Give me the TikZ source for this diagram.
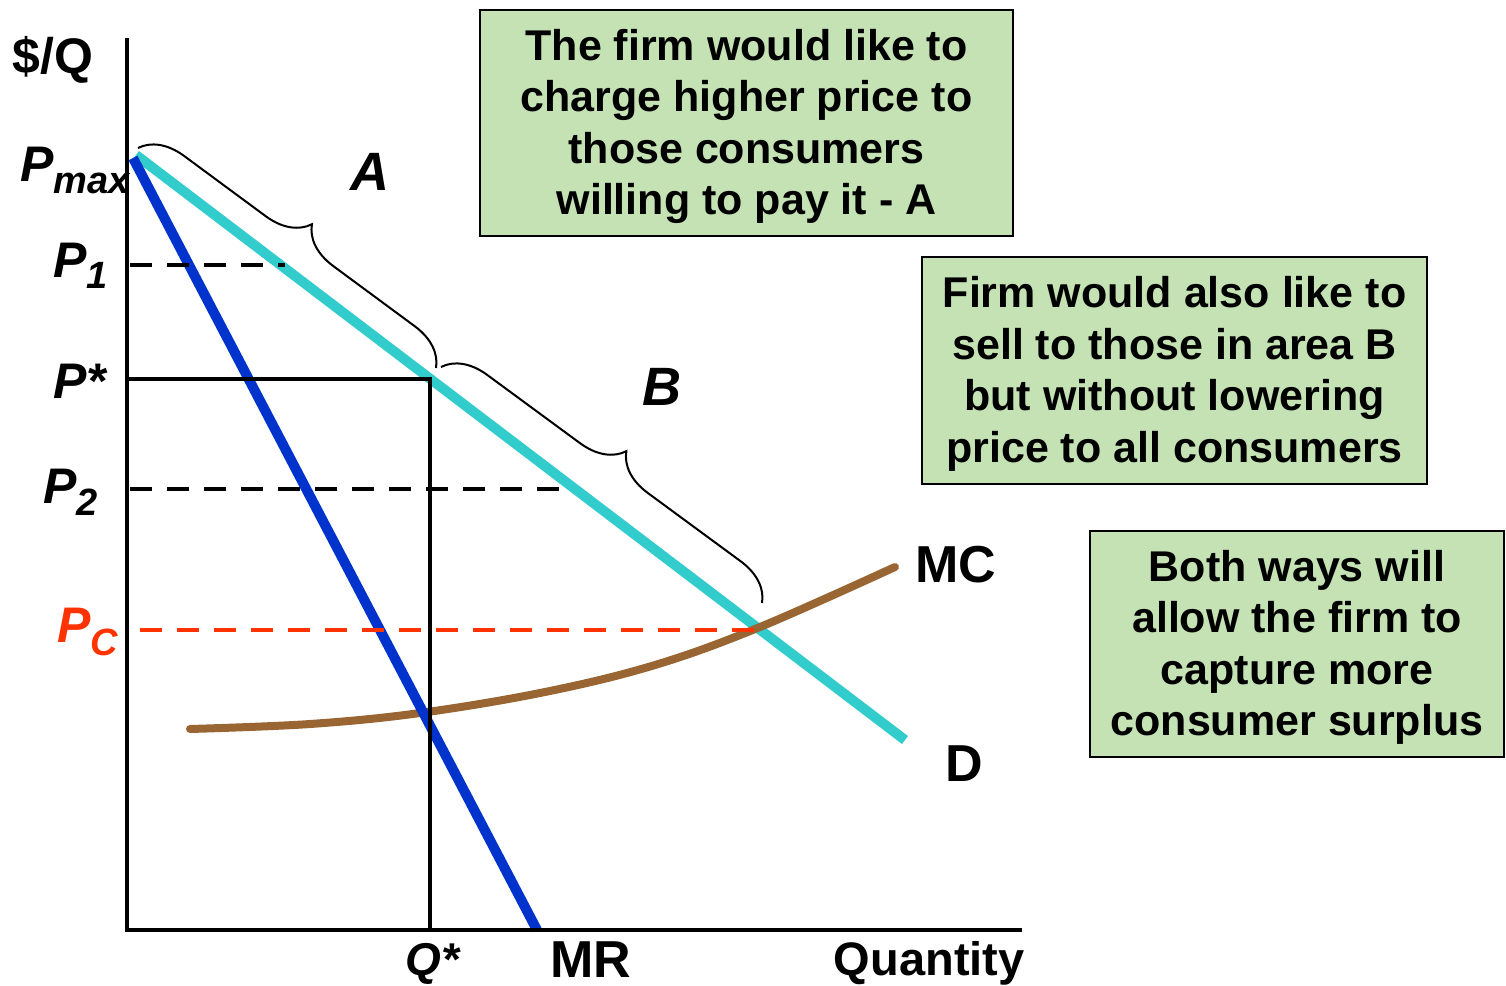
\documentclass[tikz,border=0pt]{standalone}
\usepackage{fontspec}
\setmainfont{Liberation Sans}
\usetikzlibrary{decorations.pathreplacing}
\definecolor{boxgreen}{RGB}{196,226,180}
\definecolor{dcyan}{RGB}{51,204,204}
\definecolor{mrblue}{RGB}{0,51,204}
\definecolor{mcbrown}{RGB}{153,102,51}
\definecolor{pcred}{RGB}{255,51,0}
\newcommand{\subfont}{\fontsize{19}{20}\selectfont}
\newcommand{\boxlines}[1]{\raisebox{-2pt}[\height][\depth]{\begin{tabular}{@{}c@{}}#1\end{tabular}}}
\begin{document}
\begin{tikzpicture}[x=0.5pt,y=-0.5pt,
  note/.style={draw=black,line width=1pt,fill=boxgreen,align=center,
    font=\bfseries\fontsize{21.5}{25.75}\selectfont,inner sep=0pt},
  lab/.style={font=\bfseries\fontsize{26}{30}\selectfont,inner sep=0pt},
  plab/.style={font=\bfseries\itshape\fontsize{25}{30}\selectfont,inner sep=0pt},
  axisline/.style={line width=2.4pt},
  dashline/.style={line width=2.4pt,dash pattern=on 11pt off 7.5pt},
  curveline/.style={line width=5pt},
  brc/.style={decorate,decoration={brace,amplitude=21pt},line width=1pt}]
\useasboundingbox (0,0) rectangle (1506,986);

% boxes
\node[note,minimum width=266.5pt,minimum height=113pt] (box1) at (746.5,123)
  {\boxlines{The firm would like to\\charge higher price to\\those consumers\\willing to pay it - A}};
\node[note,minimum width=252.5pt,minimum height=113.5pt] (box2) at (1174.5,370.5)
  {\boxlines{Firm would also like to\\sell to those in area B\\but without lowering\\price to all consumers}};
\node[note,minimum width=207pt,minimum height=113pt] (box3) at (1297,644)
  {\boxlines{Both ways will\\allow the firm to\\capture more\\consumer surplus}};

% coordinates
\coordinate (ytop) at (127,38);
\coordinate (O) at (127,930);
\coordinate (xend) at (1022,930);
\coordinate (dA) at (136,155);
\coordinate (dB) at (905,740);
\coordinate (mA) at (133,158);
\coordinate (mB) at (537,930);
\coordinate (p1a) at (130,265);
\coordinate (p1b) at (285,265);
\coordinate (psa) at (127,379);
\coordinate (psb) at (430,379);
\coordinate (qs) at (430,930);
\coordinate (p2a) at (130,489);
\coordinate (p2b) at (565,489);
\coordinate (pca) at (140,630);
\coordinate (pcb) at (760,630);
\coordinate (bA1) at (138,148);
\coordinate (bA2) at (436,368);
\coordinate (bB1) at (441,367);
\coordinate (bB2) at (762,603);

% curves
\draw[curveline,dcyan] (dA) -- (dB);
\draw[mcbrown,line width=4pt,line cap=round] plot[smooth,tension=0.6] coordinates
  {(190,729) (310,724) (420,713) (545,692) (655,665) (760,627) (895,567)};
\draw[curveline,mrblue] (mA) -- (mB);

% axes and guide lines
\draw[axisline] (ytop) -- (O) -- (xend);
\draw[axisline] (psa) -- (psb) -- (qs);
\draw[dashline] (p1a) -- (p1b);
\draw[dashline] (p2a) -- (p2b);
\draw[dashline,pcred] (pca) -- (pcb);

% braces
\draw[brc] (bA1) -- (bA2);
\draw[brc] (bB1) -- (bB2);

% labels
\node[lab,anchor=base,font=\bfseries\fontsize{25}{28}\selectfont] (ylab) at (53,73) {\$/Q};
\node[plab,anchor=base west] (pmax) at (20,181) {P\raisebox{-6pt}{\subfont max}};
\node[plab,anchor=base west] (p1) at (53,277) {P\raisebox{-5.5pt}{\subfont 1}};
\node[plab,anchor=base west] (pstar) at (53,398) {P*};
\node[plab,anchor=base west] (p2) at (43,503) {P\raisebox{-6pt}{\subfont 2}};
\node[plab,anchor=base west,text=pcred] (pc) at (57,642) {P\raisebox{-6.5pt}{\subfont C}};
\node[plab,anchor=base west,font=\bfseries\itshape\fontsize{23}{28}\selectfont] (qstar) at (405,975) {Q*};
\node[lab,anchor=base west] (mr) at (550,977) {MR};
\node[lab,anchor=base east,font=\bfseries\fontsize{23.5}{28}\selectfont] (qty) at (1025,975) {Quantity};
\node[lab,anchor=base west] (mc) at (915,582) {MC};
\node[lab,anchor=base west] (dl) at (945,781) {D};
\node[plab,anchor=base,font=\bfseries\itshape\fontsize{27}{30}\selectfont] (alab) at (370,190) {A};
\node[plab,anchor=base,font=\bfseries\itshape\fontsize{27}{30}\selectfont] (blab) at (662,405) {B};
\end{tikzpicture}
\end{document}
